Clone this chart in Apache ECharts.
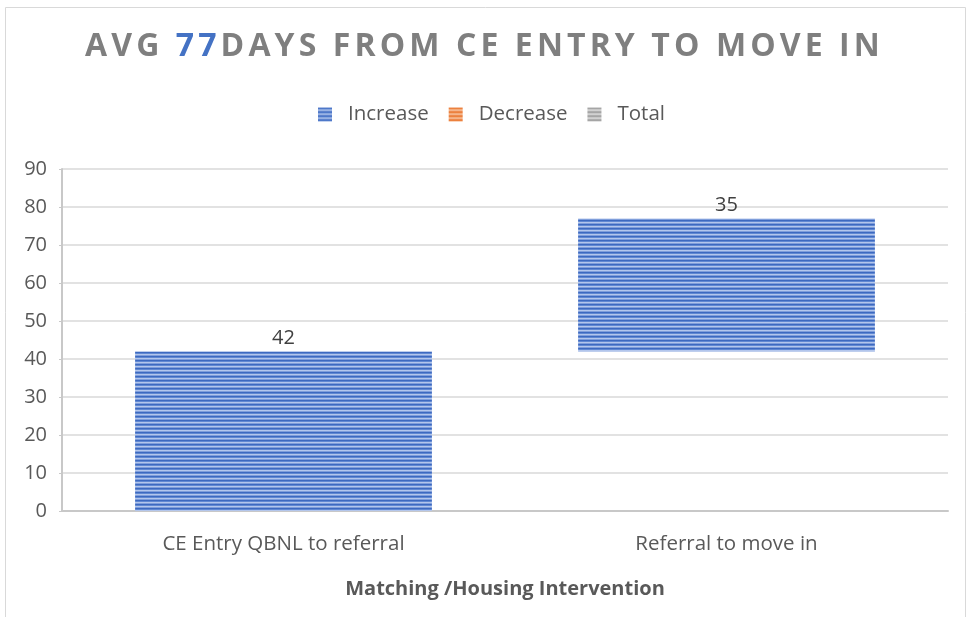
<!DOCTYPE html>
<html><head><meta charset="utf-8">
<script src="https://cdn.jsdelivr.net/npm/echarts@6/dist/echarts.min.js"></script>
<style>html,body{margin:0;padding:0;background:#fff}#c{width:969px;height:617px}</style>
</head><body><div id="c"></div>
<script>
const categories = ['CE Entry QBNL to referral', 'Referral to move in'];
const increaseValues = [42, 35];
const baseValues = [0, 42];
const decreaseValues = [];
const totalValues = [];
const yTicks = [0, 10, 20, 30, 40, 50, 60, 70, 80, 90];
const titleParts = ['AVG ', '77', 'DAYS FROM CE ENTRY TO MOVE IN'];
const xAxisName = 'Matching /Housing Intervention';

// letter-spacing for the title font only (title is the only 32px text)
(function () {
  const P = CanvasRenderingContext2D.prototype;
  const d = Object.getOwnPropertyDescriptor(P, 'font');
  if (d && 'letterSpacing' in P) {
    Object.defineProperty(P, 'font', {
      configurable: true,
      get() { return d.get.call(this); },
      set(v) { d.set.call(this, v); this.letterSpacing = /32px/.test(v) ? '4.1px' : '0px'; }
    });
  }
})();

function stripes(rows) {
  const c = document.createElement('canvas');
  c.width = 4; c.height = rows.length;
  const ctx = c.getContext('2d');
  rows.forEach((col, i) => { ctx.fillStyle = col; ctx.fillRect(0, i, 4, 1); });
  return { image: c, repeat: 'repeat' };
}
const bluePat = stripes(['#3d69c0', '#6088d2', '#b3c6ec', '#7f9edb']);
const orangePat = stripes(['#e8732a', '#f08f52', '#f9c9a6', '#f2a172']);
const grayPat = stripes(['#9a9a9a', '#b0b0b0', '#e0e0e0', '#c2c2c2']);

const chart = echarts.init(document.getElementById('c'));
chart.setOption({
  animation: false,
  graphic: [{ type: 'rect', shape: { x: 5.5, y: 7.5, width: 960, height: 640 }, style: { fill: 'none', stroke: '#d9d9d9', lineWidth: 1 }, silent: true }],
  title: {
    text: '{g|' + titleParts[0] + '}{b|' + titleParts[1] + '}{g|' + titleParts[2] + '}',
    left: 'center', top: 24,
    textStyle: {
      rich: {
        g: { fontFamily: 'Open Sans', fontWeight: 'bold', fontSize: 32, color: '#7f7f7f' },
        b: { fontFamily: 'Open Sans', fontWeight: 'bold', fontSize: 32, color: '#4472c4' }
      }
    }
  },
  legend: {
    top: 99, left: 313, itemWidth: 14, itemHeight: 14, itemGap: 20, icon: 'rect',
    textStyle: { fontFamily: 'Open Sans', fontSize: 20.5, color: '#595959', padding: [0, 0, 0, 11] },
    data: ['Increase', 'Decrease', 'Total']
  },
  grid: { left: 62, right: 21, top: 169, bottom: 106 },
  xAxis: {
    type: 'category', data: categories,
    axisLine: { lineStyle: { color: '#c8c8c8', width: 2 } },
    axisTick: { show: false },
    axisLabel: { fontFamily: 'Open Sans', fontSize: 20.5, color: '#595959', margin: 23 },
    name: xAxisName, nameLocation: 'middle', nameGap: 68,
    nameTextStyle: { fontFamily: 'Open Sans', fontWeight: 'bold', fontSize: 20, color: '#595959' }
  },
  yAxis: {
    type: 'value', min: yTicks[0], max: yTicks[yTicks.length - 1], interval: 10,
    axisLine: { show: true, lineStyle: { color: '#c8c8c8', width: 2 } },
    axisTick: { show: true, length: 3, lineStyle: { color: '#c8c8c8' } },
    axisLabel: { fontFamily: 'Open Sans', fontSize: 20, color: '#595959', margin: 15 },
    splitLine: { lineStyle: { color: '#d9d9d9', width: 1.5 } }
  },
  series: [
    { name: 'base', type: 'bar', stack: 'w', data: baseValues, itemStyle: { color: 'transparent' }, barWidth: '67%', silent: true },
    { name: 'Increase', type: 'bar', stack: 'w', data: increaseValues, itemStyle: { color: bluePat }, barWidth: '67%',
      label: { show: true, position: 'top', distance: 3, fontFamily: 'Open Sans', fontSize: 20, color: '#404040' } },
    { name: 'Decrease', type: 'bar', stack: 'w', data: decreaseValues, itemStyle: { color: orangePat } },
    { name: 'Total', type: 'bar', stack: 'w', data: totalValues, itemStyle: { color: grayPat } }
  ]
});
</script></body></html>
